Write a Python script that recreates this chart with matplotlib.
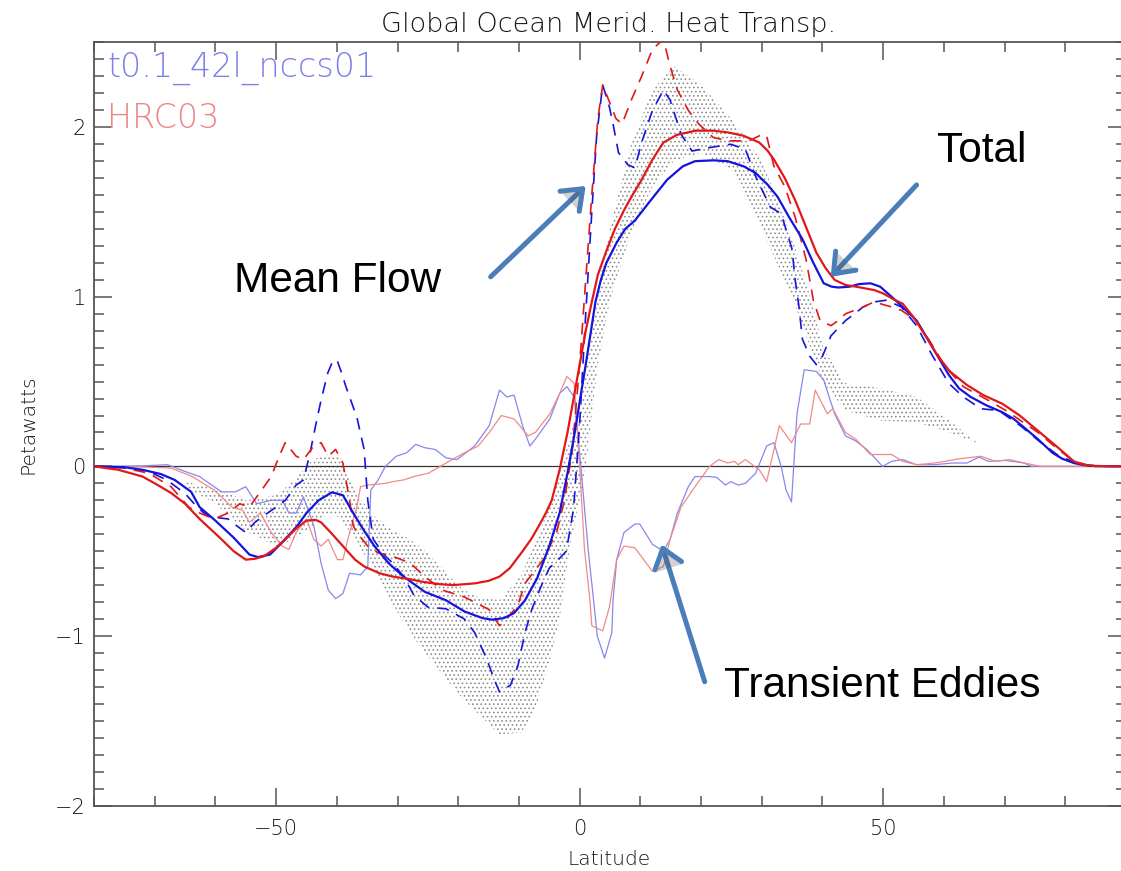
import matplotlib
matplotlib.use("Agg")
import matplotlib.pyplot as plt
import matplotlib.patheffects as pe
import numpy as np

# ---------------- data (latitude, petawatts) ----------------
total_a_lat = [-80, -75, -72, -69, -66.7, -64, -62.6, -60, -57, -54.4, -53, -51, -48.5, -46.5, -45, -43,
               -40.8, -39, -37.3, -35.5, -33.8, -31.5, -29, -25.5, -22, -19, -16, -14.4, -12.5, -10.8,
               -9, -7, -5, -3.3, -2, -1, 0, 1, 2, 2.6, 3.5, 4.4, 6.1, 7.5, 9.1, 11.5, 14.4, 17, 19, 22,
               24.4, 27, 29, 31, 32.6, 34.5, 36.7, 38.5, 40.2, 41.5, 42.6, 44.5, 46, 47.9, 49.5, 51.4,
               53.2, 55.5, 58, 60.8, 62.5, 64.4, 67, 69.6, 71.5, 73.2, 75.5, 77.9, 79.5, 81.4, 83, 85, 90]
total_a_pw = [0, -0.005, -0.02, -0.045, -0.08, -0.15, -0.24, -0.32, -0.42, -0.52, -0.535, -0.52, -0.43,
              -0.35, -0.275, -0.2, -0.153, -0.17, -0.275, -0.38, -0.47, -0.57, -0.65, -0.74, -0.79, -0.855,
              -0.895, -0.904, -0.895, -0.865, -0.79, -0.66, -0.47, -0.275, -0.04, 0.16, 0.38, 0.6, 0.83,
              0.97, 1.1, 1.2, 1.32, 1.40, 1.45, 1.56, 1.69, 1.77, 1.80, 1.805, 1.80, 1.77, 1.73, 1.66,
              1.59, 1.47, 1.34, 1.2, 1.08, 1.06, 1.055, 1.06, 1.075, 1.08, 1.06, 1.0, 0.94, 0.86, 0.71,
              0.54, 0.46, 0.41, 0.36, 0.32, 0.28, 0.23, 0.16, 0.08, 0.045, 0.02, 0.008, 0.002, 0]

total_b_lat = [-80, -76, -72, -69.5, -67.3, -65, -62.6, -59, -57, -55, -53.5, -52, -50, -48.5, -46.5, -45,
               -43.5, -42.6, -41, -39, -37, -35.5, -33, -30.8, -28, -26, -23, -20.8, -17.3, -15, -13.2,
               -11.5, -9.6, -8, -6.7, -5.5, -4.6, -3.3, -2, -1, 0, 1, 2, 3, 4.4, 5.8, 7.3, 8.7, 10.2, 12,
               13.8, 16, 19.1, 22, 24.4, 27, 29.6, 31, 32, 33.8, 35.5, 37.2, 39, 40.5, 42, 43.8, 45.5,
               48.5, 50, 52, 53.2, 55, 57, 59, 61, 63.8, 66.5, 69.6, 72.5, 75.5, 78.5, 81.4, 83, 85, 90]
total_b_pw = [0, -0.02, -0.06, -0.11, -0.157, -0.22, -0.31, -0.43, -0.5, -0.55, -0.545, -0.53, -0.48,
              -0.43, -0.36, -0.32, -0.315, -0.33, -0.39, -0.47, -0.55, -0.59, -0.63, -0.65, -0.665,
              -0.68, -0.695, -0.70, -0.69, -0.675, -0.65, -0.6, -0.51, -0.43, -0.35, -0.27, -0.2, -0.02,
              0.2, 0.4, 0.6, 0.8, 0.97, 1.13, 1.27, 1.40, 1.51, 1.6, 1.69, 1.81, 1.91, 1.955, 1.98,
              1.98, 1.97, 1.95, 1.91, 1.86, 1.81, 1.7, 1.57, 1.42, 1.26, 1.17, 1.10, 1.07, 1.06, 1.04,
              1.02, 0.98, 0.96, 0.88, 0.77, 0.65, 0.56, 0.48, 0.42, 0.37, 0.3, 0.21, 0.12, 0.03, 0.01,
              0.002, 0]

mean_a_lat = [-80, -75, -71, -68, -65, -63, -61.4, -60.2, -57.9, -56.5, -55, -53.5, -52, -50, -48.5,
              -46.7, -45.5, -44.4, -43.5, -42.6, -41.5, -40.8, -40, -39.3, -38.5, -37.5, -36.7, -35.5,
              -34.9, -34, -32, -30.8, -29, -27.3, -25, -22, -19, -17.3, -15.5, -13.8, -13.2, -11.4,
              -10.2, -9, -7.9, -6.5, -5, -3.5, -2.2, -1, 0, 1, 2, 2.8, 3.8, 4.9, 5.5, 6.4, 7.9, 9.1,
              10.2, 12, 13.8, 14.9, 16.7, 18.5, 21.4, 24.9, 27.3, 29, 31.4, 33.2, 35, 35.5, 36.1, 36.7,
              37.9, 39, 40, 41.4, 43.8, 46.7, 48.5, 50.5, 53, 55.5, 58, 60.8, 63.2, 66.1, 69, 72.6, 76,
              79, 82.6, 85, 90]
mean_a_pw = [0, -0.005, -0.03, -0.08, -0.16, -0.24, -0.29, -0.30, -0.31, -0.35, -0.39, -0.33, -0.29,
             -0.24, -0.2, -0.11, -0.08, 0.08, 0.24, 0.39, 0.55, 0.61, 0.63, 0.56, 0.47, 0.37, 0.29, 0.1,
             -0.2, -0.43, -0.53, -0.57, -0.65, -0.76, -0.83, -0.84, -0.9, -0.98, -1.12, -1.28, -1.33,
             -1.29, -1.18, -0.98, -0.845, -0.72, -0.6, -0.55, -0.5, -0.25, 0.25, 0.9, 1.5, 1.95, 2.25,
             2.12, 2.02, 1.85, 1.78, 1.76, 1.91, 2.1, 2.22, 2.16, 1.96, 1.86, 1.88, 1.9, 1.87, 1.71,
             1.53, 1.49, 1.28, 1.1, 0.95, 0.75, 0.65, 0.6, 0.65, 0.77, 0.86, 0.94, 0.97, 0.98, 0.94,
             0.83, 0.66, 0.49, 0.41, 0.34, 0.33, 0.24, 0.14, 0.06, 0.01, 0, 0]

mean_b_lat = [-80, -75, -71, -67.3, -64.4, -62.6, -60.2, -57.9, -56, -54.4, -53.2, -50.8, -49.5, -48.5,
              -46.7, -45.5, -43.8, -42.6, -41.4, -40.2, -39, -37.9, -37.3, -36.7, -34.9, -33.2, -30.8,
              -27.9, -25.5, -22.6, -19, -17.9, -14.9, -13.2, -12, -10.2, -9, -6, -3.8, -2.5, -1.2, 0, 1,
              2, 3, 3.8, 4.9, 6, 7, 8.5, 10.2, 12, 13.8, 14.9, 16.1, 17.9, 19.6, 22, 24.4, 27.9, 30.2,
              30.8, 32, 33.8, 35.5, 37.3, 38.5, 39.6, 41.4, 42.6, 43.8, 46.7, 48.5, 51.4, 53, 55.5, 58,
              60.2, 63.2, 67.3, 70.2, 75.5, 78.5, 81.4, 84, 90]
mean_b_pw = [0, -0.01, -0.04, -0.12, -0.24, -0.275, -0.31, -0.275, -0.22, -0.24, -0.18, -0.06, 0.06,
             0.14, 0.06, 0.04, 0.12, 0.14, 0.06, 0.1, 0.02, -0.2, -0.35, -0.39, -0.47, -0.51, -0.53,
             -0.57, -0.65, -0.73, -0.77, -0.79, -0.845, -0.94, -0.9, -0.82, -0.69, -0.55, -0.39, -0.2,
             0.1, 0.6, 1.1, 1.6, 2.05, 2.25, 2.15, 2.05, 2.02, 2.16, 2.3, 2.46, 2.52, 2.36, 2.22, 2.1,
             2.02, 1.94, 1.92, 1.92, 1.96, 1.95, 1.77, 1.65, 1.47, 1.22, 0.98, 0.86, 0.83, 0.86, 0.9,
             0.94, 0.97, 0.94, 0.92, 0.86, 0.72, 0.59, 0.47, 0.39, 0.33, 0.2, 0.11, 0.03, 0.005, 0]

eddy_a_lat = [-80, -72, -67.9, -65, -62.6, -60.2, -59, -56.7, -55, -53.2, -50.8, -49, -47.9, -46.7,
              -45.5, -43.8, -42.6, -41.4, -40.2, -39, -37.9, -36.1, -34.9, -34.4, -33.2, -32, -30.2,
              -28.5, -27, -25.5, -23.8, -22, -20.2, -17.3, -14.9, -13.2, -12, -10.8, -9.4, -8.2, -7.3,
              -4.9, -3.3, -2.1, -0.9, 0.2, 1.4, 2.3, 2.9, 4.1, 5.3, 5.5, 6.1, 7.3, 9.1, 9.9, 12, 13.8,
              14.9, 16.1, 17.9, 19, 21.4, 22.6, 24, 24.9, 26.1, 27.3, 29, 30.8, 32, 33.2, 34, 34.9,
              35.8, 37, 39, 40.2, 42, 43.8, 45.5, 47.3, 49.9, 51.4, 53.2, 55.5, 58.5, 61.4, 63.8,
              65.8, 67.3, 70.2, 73.2, 74.4, 80, 90]
eddy_a_pw = [0, 0.003, 0.01, -0.03, -0.06, -0.12, -0.15, -0.15, -0.12, -0.22, -0.2, -0.2, -0.275,
             -0.275, -0.18, -0.35, -0.57, -0.73, -0.78, -0.75, -0.63, -0.64, -0.59, -0.14, -0.08, 0,
             0.06, 0.08, 0.13, 0.11, 0.1, 0.05, 0.04, 0.12, 0.24, 0.45, 0.41, 0.42, 0.24, 0.12, 0.16,
             0.28, 0.43, 0.47, 0.41, 0, -0.49, -0.79, -1.0, -1.13, -0.98, -0.79, -0.55, -0.39, -0.34,
             -0.34, -0.46, -0.5, -0.43, -0.275, -0.12, -0.06, -0.06, -0.065, -0.11, -0.09, -0.11,
             -0.1, -0.04, 0.12, 0.14, 0, -0.14, -0.21, 0.31, 0.57, 0.56, 0.51, 0.31, 0.18, 0.15, 0.1,
             0, 0.03, 0.04, 0.01, 0.01, 0.02, 0.02, 0.055, 0.03, 0.035, 0.02, 0, 0, 0]

eddy_b_lat = [-80, -72, -67.3, -63.8, -60.2, -59, -57.3, -55.5, -54.4, -52.6, -50.8, -49, -47.9, -46.7,
              -45, -43.8, -42.6, -41.4, -39.9, -39, -37.9, -36.7, -36.1, -34.9, -32, -30.8, -29, -27.3,
              -24.9, -22, -19, -16.7, -14.9, -12.9, -10.8, -8.5, -7.3, -4.9, -3.3, -2.1, -0.9, 0, 0.8,
              1.7, 2, 3.8, 4.9, 6.1, 7.3, 9.1, 12, 13.8, 14.9, 16.7, 19, 21.4, 22.9, 24.4, 25.5, 26.1,
              27.3, 29.6, 30.8, 32.9, 34.9, 36.4, 37.9, 38.8, 40.8, 41.7, 43.8, 45.5, 47.9, 51.4, 53.2,
              55.5, 58.5, 62.6, 66.1, 68.5, 70.8, 73.2, 76, 90]
eddy_b_pw = [0, -0.003, -0.01, -0.06, -0.14, -0.18, -0.24, -0.26, -0.33, -0.275, -0.39, -0.47, -0.49,
             -0.39, -0.31, -0.43, -0.47, -0.43, -0.55, -0.55, -0.39, -0.24, -0.12, -0.11, -0.1, -0.09,
             -0.08, -0.06, -0.04, 0.02, 0.08, 0.12, 0.2, 0.3, 0.28, 0.18, 0.2, 0.31, 0.43, 0.53, 0.49,
             0, -0.49, -0.79, -0.94, -0.97, -0.83, -0.55, -0.47, -0.48, -0.62, -0.59, -0.43, -0.24,
             -0.12, 0, 0.04, 0.02, 0.03, 0.01, 0.04, -0.02, -0.09, 0.24, 0.14, 0.25, 0.25, 0.45, 0.31,
             0.34, 0.2, 0.16, 0.07, 0.07, 0.03, 0.01, 0.02, 0.045, 0.06, 0.03, 0.04, 0.02, 0, 0]

# observational range (upper / lower bounds)
obs_lat = [-65, -60, -55, -50, -47, -44, -41.5, -39.5, -38, -36.7, -34, -31, -28, -25, -21.4, -19,
           -16.7, -13.2, -9.6, -7.3, -4.9, -3.3, -1.5, 0, 1, 3, 5, 6, 8.5, 9, 12, 15.5, 20, 25, 30, 35,
           38, 40.2, 43.8, 49.6, 55.5, 60.2, 65.2]
obs_hi = [-0.09, -0.13, -0.2, -0.17, -0.08, 0.04, 0.07, 0.06, -0.06, -0.16, -0.29, -0.37, -0.43, -0.51,
          -0.65, -0.73, -0.77, -0.79, -0.64, -0.45, -0.22, -0.05, 0.2, 0.4, 0.6, 1.05, 1.4, 1.55, 1.9,
          1.95, 2.22, 2.36, 2.25, 2.05, 1.8, 1.35, 1.0, 0.69, 0.49, 0.46, 0.41, 0.29, 0.15]
obs_lo = [-0.12, -0.22, -0.38, -0.47, -0.43, -0.35, -0.28, -0.3, -0.38, -0.45, -0.6, -0.8, -0.98, -1.12,
          -1.28, -1.38, -1.46, -1.58, -1.57, -1.43, -1.14, -0.9, -0.45, -0.2, 0.0, 0.6, 0.98, 1.1, 1.38,
          1.42, 1.65, 1.8, 1.85, 1.75, 1.4, 1.0, 0.7, 0.49, 0.33, 0.27, 0.26, 0.21, 0.14]

x_major = [-50, 0, 50]
y_major = [-2, -1, 0, 1, 2]

# ---------------- figure ----------------
W, H = 1121, 871
fig = plt.figure(figsize=(W / 100, H / 100), dpi=100)
ax = fig.add_axes([94 / W, 1 - 805.5 / H, (1126 - 94) / W, (805.5 - 42.5) / H])
ax.set_xlim(-80, 90)
ax.set_ylim(-2, 2.5)

plt.rcParams['hatch.linewidth'] = 0.7
ax.fill_between(obs_lat, obs_lo, obs_hi, facecolor='none', edgecolor='#8e8e8e',
                hatch='....', linewidth=0, zorder=1)

ax.axhline(0, color='#333333', lw=0.9, zorder=2)

blue, red = '#1414dc', '#e01818'
lblue, lred = '#8787ee', '#f08a8a'
ax.plot(eddy_a_lat, eddy_a_pw, color=lblue, lw=0.9, zorder=3)
ax.plot(eddy_b_lat, eddy_b_pw, color=lred, lw=0.9, zorder=3)
ax.plot(mean_a_lat, mean_a_pw, color=blue, lw=1.2, ls=(0, (7, 5)), zorder=4)
ax.plot(mean_b_lat, mean_b_pw, color=red, lw=1.2, ls=(0, (7, 5)), zorder=4)
ax.plot(total_a_lat, total_a_pw, color=blue, lw=1.6, zorder=5)
ax.plot(total_b_lat, total_b_pw, color=red, lw=1.6, zorder=5)

# axes styling
spine_c = '#555555'
for s in ax.spines.values():
    s.set_color(spine_c)
    s.set_linewidth(1.3)
ax.set_xticks(x_major)
ax.set_xticks(np.arange(-80, 91, 10), minor=True)
ax.set_yticks(y_major)
ax.set_yticks(np.arange(-2, 2.51, 0.1), minor=True)
txt_c = '#151515'
ax.tick_params(which='both', direction='in', top=True, right=True, color=spine_c, width=1.1,
               labelcolor=txt_c, labelsize=15)
ax.tick_params(which='major', length=13)
ax.tick_params(which='minor', length=7.5)
ax.tick_params(axis='x', pad=10)
ax.tick_params(axis='y', pad=6)
for lab in ax.get_xticklabels() + ax.get_yticklabels():
    lab.set_fontweight('light')

fig.text(609 / W, 1 - 865 / H, 'Latitude', ha='center', va='baseline', fontsize=14.5, color=txt_c,
         fontweight='light')
fig.text(28 / W, 1 - 424 / H, 'Petawatts', ha='center', va='center', rotation=90, fontsize=14.5,
         color=txt_c, fontweight='light')
fig.text(609 / W, 1 - 32 / H, 'Global Ocean Merid. Heat Transp.', ha='center', va='baseline',
         fontsize=19.5, color=txt_c, fontweight='light')
fig.text(107 / W, 1 - 77 / H, 't0.1_42l_nccs01', ha='left', va='baseline', fontsize=24,
         color='#7f7fea', fontweight='light')
fig.text(107 / W, 1 - 128 / H, 'HRC03', ha='left', va='baseline', fontsize=24, color='#ee8585',
         fontweight='light')

# annotations
ann_font = dict(family='Liberation Sans', fontsize=30.5, color='black', ha='left', va='baseline')
fig.text(234 / W, 1 - 292 / H, 'Mean Flow', **ann_font)
fig.text(937 / W, 1 - 162 / H, 'Total', **ann_font)
fig.text(724 / W, 1 - 697 / H, 'Transient Eddies', **ann_font)

arrow_c = '#4a7ebb'
arrows = [((0.99, 1.654), (-14.66, 1.118)),
          ((41.35, 1.118), (55.5, 1.66)),
          ((13.5, -0.461), (20.6, -1.27))]
for tip, tail in arrows:
    ax.annotate('', xy=tip, xytext=tail, zorder=6,
                arrowprops=dict(arrowstyle='->,head_length=0.65,head_width=0.5', color=arrow_c,
                                lw=3.6, mutation_scale=20, shrinkA=0, shrinkB=0,
                                path_effects=[pe.SimplePatchShadow(offset=(1.5, -1.5), alpha=0.25),
                                              pe.Normal()]))

fig.savefig('out.png', dpi=100)
